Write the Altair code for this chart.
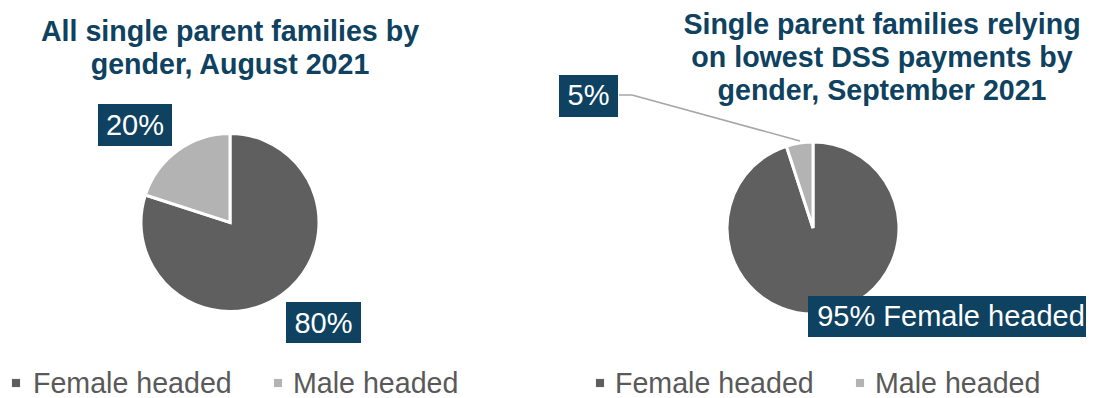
import altair as alt
import pandas as pd

# ---- data ----
categories = ["Female headed", "Male headed"]
all_share = [80, 20]          # All single parent families, Aug 2021
dss_share = [95, 5]           # Relying on lowest DSS payments, Sep 2021
title_left = "All single parent families by\ngender, August 2021"
title_right = "Single parent families relying\non lowest DSS payments by\ngender, September 2021"

# ---- style ----
slice_colors = ["#5f5f5f", "#b3b3b3"]
navy = "#0e4260"
legend_grey = "#595959"
FONT = "Liberation Sans"

W, H = 1078, 390

color_scale = alt.Scale(domain=categories, range=slice_colors)


def pie(shares, cx, cy, r):
    df = pd.DataFrame({"category": categories, "share": shares})
    return alt.Chart(df).mark_arc(radius=r, stroke="white", strokeWidth=3).encode(
        theta=alt.Theta("share:Q", stack=True),
        color=alt.Color("category:N", scale=color_scale, legend=None),
        order=alt.Order("category:N", sort="ascending"),
        x=alt.value(cx),
        y=alt.value(cy),
    )


def box(x1, x2, y1, y2):
    return alt.Chart(pd.DataFrame({"k": [0]})).mark_rect(color=navy).encode(
        x=alt.value(x1), x2=alt.value(x2), y=alt.value(y1), y2=alt.value(y2)
    )


def label(text, x, y, size=29, color="white", align="center", bold=False, lh=None):
    kw = dict(font=FONT, fontSize=size, color=color, align=align, baseline="alphabetic",
              fontWeight="bold" if bold else "normal")
    if lh is not None:
        kw["lineHeight"] = lh
        kw["lineBreak"] = "\n"
    return alt.Chart(pd.DataFrame({"t": [text]})).mark_text(**kw).encode(
        text="t:N", x=alt.value(x), y=alt.value(y)
    )


def seg(x1, y1, x2, y2):
    return alt.Chart(pd.DataFrame({"k": [0]})).mark_rule(color="#a6a6a6", strokeWidth=1.5).encode(
        x=alt.value(x1), x2=alt.value(x2), y=alt.value(y1), y2=alt.value(y2)
    )


def legend_item(cat, sx, tx):
    df = pd.DataFrame({"category": [cat]})
    sq = alt.Chart(df).mark_square(size=66, opacity=1).encode(
        color=alt.Color("category:N", scale=color_scale, legend=None),
        x=alt.value(sx), y=alt.value(375),
    )
    tx_ = alt.Chart(df).mark_text(font=FONT, fontSize=28.6, color=legend_grey,
                                  align="left", baseline="alphabetic").encode(
        text="category:N", x=alt.value(tx), y=alt.value(385)
    )
    return [sq, tx_]


layers = [
    pie(all_share, 222, 214.5, 89),
    pie(dss_share, 805, 220, 86),
    seg(611, 87, 624, 87),
    seg(624, 87, 792, 133),
    box(90, 164, 96, 138),
    box(278, 353, 294, 335),
    box(551, 610, 67, 109),
    box(800, 1085, 288, 329),
    label(f"{all_share[1]}%", 127, 127),
    label(f"{all_share[0]}%", 315.5, 325),
    label(f"{dss_share[1]}%", 580.5, 97),
    label(f"{dss_share[0]}% {categories[0]}", 943, 318),
    label(title_left, 222, 33, size=28.6, color=navy, bold=True, lh=33),
    label(title_right, 874, 26, size=28.6, color=navy, bold=True, lh=33),
]
layers += legend_item(categories[0], 8, 25)
layers += legend_item(categories[1], 270, 285)
layers += legend_item(categories[0], 592, 607)
layers += legend_item(categories[1], 852, 867)

chart = alt.layer(*layers).properties(
    width=W, height=H, padding=0, autosize=alt.AutoSizeParams(type="none")
).configure_view(stroke=None)

chart.save("out.html", embed_options={"renderer": "svg", "actions": False})
